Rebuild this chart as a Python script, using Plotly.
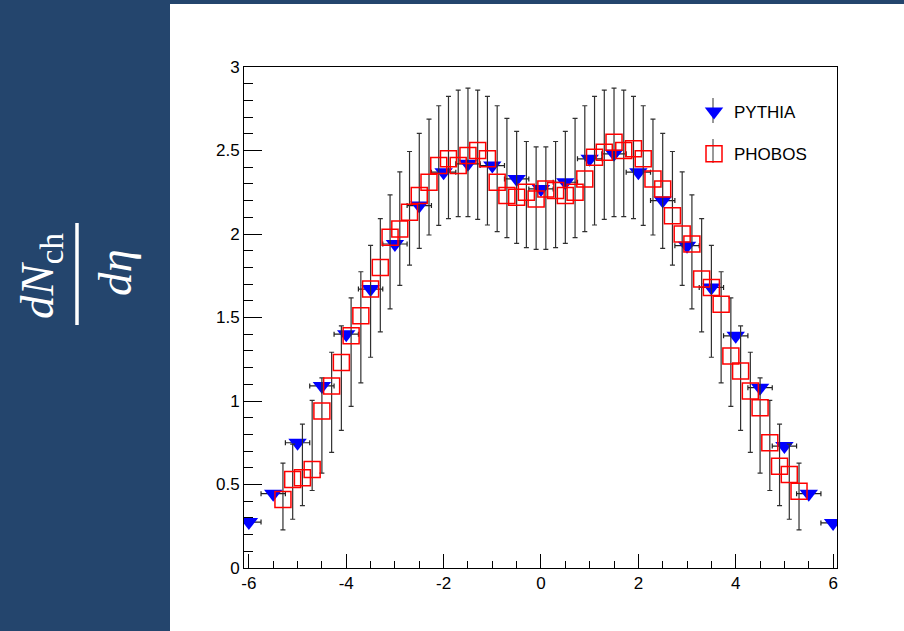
import plotly.graph_objects as go

# PYTHIA: charged-particle pseudorapidity density, bins of width 0.5
pythia_eta = [-6.0, -5.5, -5.0, -4.5, -4.0, -3.5, -3.0, -2.5, -2.0, -1.5, -1.0, -0.5, 0.0,
              0.5, 1.0, 1.5, 2.0, 2.5, 3.0, 3.5, 4.0, 4.5, 5.0, 5.5, 6.0]
pythia_dndeta = [0.275, 0.445, 0.75, 1.09, 1.40, 1.67, 1.94, 2.17, 2.37, 2.42, 2.41, 2.33, 2.27,
                 2.31, 2.45, 2.48, 2.37, 2.20, 1.93, 1.68, 1.39, 1.08, 0.73, 0.445, 0.27]
pythia_eta_halfwidth = [0.25] * len(pythia_eta)

# PHOBOS measurement, bins of width 0.2, with systematic band (lower/upper ends)
phobos_eta = [-5.3, -5.1, -4.9, -4.7, -4.5, -4.3, -4.1, -3.9, -3.7, -3.5, -3.3, -3.1, -2.9,
              -2.7, -2.5, -2.3, -2.1, -1.9, -1.7, -1.5, -1.3, -1.1, -0.9, -0.7, -0.5, -0.3,
              -0.1, 0.1, 0.3, 0.5, 0.7, 0.9, 1.1, 1.3, 1.5, 1.7, 1.9, 2.1, 2.3, 2.5, 2.7,
              2.9, 3.1, 3.3, 3.5, 3.7, 3.9, 4.1, 4.3, 4.5, 4.7, 4.9, 5.1, 5.3]
phobos_dndeta = [0.41, 0.53, 0.54, 0.59, 0.94, 1.09, 1.23, 1.39, 1.51, 1.67, 1.80, 1.98, 2.03,
                 2.13, 2.23, 2.31, 2.41, 2.45, 2.41, 2.47, 2.50, 2.45, 2.31, 2.23, 2.22, 2.25,
                 2.21, 2.27, 2.26, 2.23, 2.25, 2.33, 2.46, 2.49, 2.55, 2.50, 2.51, 2.45, 2.33,
                 2.27, 2.11, 2.00, 1.94, 1.73, 1.68, 1.58, 1.27, 1.18, 1.06, 0.96, 0.75, 0.61,
                 0.56, 0.46]
phobos_low = [0.228, 0.292, 0.374, 0.464, 0.568, 0.692, 0.824, 0.968, 1.108, 1.262, 1.414, 1.552,
              1.692, 1.814, 1.914, 1.994, 2.052, 2.092, 2.104, 2.104, 2.088, 2.054, 2.014, 1.978,
              1.944, 1.918, 1.908, 1.908, 1.918, 1.944, 1.978, 2.014, 2.054, 2.088, 2.104, 2.104,
              2.092, 2.052, 1.994, 1.914, 1.814, 1.692, 1.552, 1.414, 1.262, 1.108, 0.968, 0.824,
              0.692, 0.568, 0.464, 0.374, 0.292, 0.228]
phobos_high = [0.628, 0.742, 0.862, 1.004, 1.138, 1.292, 1.450, 1.618, 1.774, 1.932, 2.092, 2.234,
               2.372, 2.494, 2.602, 2.688, 2.768, 2.824, 2.862, 2.874, 2.862, 2.824, 2.768, 2.692,
               2.614, 2.554, 2.522, 2.522, 2.554, 2.614, 2.692, 2.768, 2.824, 2.862, 2.874, 2.862,
               2.824, 2.768, 2.688, 2.602, 2.494, 2.372, 2.234, 2.092, 1.932, 1.774, 1.618, 1.450,
               1.292, 1.138, 1.004, 0.862, 0.742, 0.628]

x_tick_values = [-6, -4, -2, 0, 2, 4, 6]
x_tick_labels = ["-6", "-4", "-2", "0", "2", "4", "6"]
y_tick_values = [0, 0.5, 1, 1.5, 2, 2.5, 3]
y_tick_labels = ["0", "0.5", "1", "1.5", "2", "2.5", "3"]

W, H = 904, 631
L, R, T, B = 244, 67, 67, 63
SANS = "Liberation Sans, Arial, Helvetica, sans-serif"
SERIF = "Liberation Serif, DejaVu Serif, serif"


def px_x(p):
    return (p - L) / (W - L - R)


def px_y(p):
    return (H - B - p) / (H - T - B)


err_plus = [h - v for h, v in zip(phobos_high, phobos_dndeta)]
err_minus = [v - lo for v, lo in zip(phobos_dndeta, phobos_low)]

fig = go.Figure()

fig.add_trace(go.Scatter(
    x=pythia_eta, y=pythia_dndeta, mode="markers", name="PYTHIA",
    marker=dict(symbol="triangle-down", size=16, color="#0000ff"),
    error_x=dict(type="data", array=pythia_eta_halfwidth, color="#202020",
                 thickness=1.2, width=2.5),
    legendgroup="a",
))

fig.add_trace(go.Scatter(
    x=phobos_eta, y=phobos_dndeta, mode="markers", name="PHOBOS",
    marker=dict(symbol="square-open", size=16, color="#ff0000",
                line=dict(width=1.5, color="#ff0000")),
    error_y=dict(type="data", symmetric=False, array=err_plus, arrayminus=err_minus,
                 color="#303030", thickness=1.2, width=2.5),
    legendgroup="b",
))

LEG_LEFT, LEG_TOP = 694, 94
sym_x = LEG_LEFT + 19

shapes = [
    # white panel behind the chart
    dict(type="rect", xref="paper", yref="paper", layer="below",
         x0=px_x(170), x1=px_x(W + 2), y0=px_y(H + 2), y1=px_y(4),
         fillcolor="white", line=dict(width=0)),
    # fraction bar of the axis title
    dict(type="line", xref="paper", yref="paper",
         x0=px_x(77), x1=px_x(77), y0=px_y(223), y1=px_y(325),
         line=dict(color="white", width=3.5)),
    # error-bar strokes of the legend symbols
    dict(type="line", xref="paper", yref="paper",
         x0=px_x(sym_x), x1=px_x(sym_x), y0=px_y(98), y1=px_y(123),
         line=dict(color="#555555", width=1.2)),
    dict(type="line", xref="paper", yref="paper",
         x0=px_x(sym_x), x1=px_x(sym_x), y0=px_y(139), y1=px_y(163),
         line=dict(color="#555555", width=1.2)),
]

annotations = [
    dict(xref="paper", yref="paper", x=px_x(40), y=px_y(276), showarrow=False,
         xanchor="center", yanchor="middle",
         text="<i>dN</i><sub>ch</sub>", textangle=-90,
         font=dict(family=SERIF, size=47, color="white")),
    dict(xref="paper", yref="paper", x=px_x(115), y=px_y(273), showarrow=False,
         xanchor="center", yanchor="middle",
         text="<i>dη</i>", textangle=-90,
         font=dict(family=SERIF, size=47, color="white")),
]

axis_common = dict(
    showline=True, linecolor="black", linewidth=1, mirror=True,
    showgrid=False, zeroline=False, ticks="inside", tickcolor="black", tickwidth=1,
    tickfont=dict(family=SANS, size=17, color="black"),
)

fig.update_layout(
    width=W, height=H,
    margin=dict(l=L, r=R, t=T, b=B, pad=0),
    paper_bgcolor="#24456d", plot_bgcolor="white",
    shapes=shapes, annotations=annotations,
    showlegend=True,
    legend=dict(x=px_x(LEG_LEFT), y=px_y(LEG_TOP), xanchor="left", yanchor="top",
                bgcolor="rgba(0,0,0,0)", borderwidth=0, tracegroupgap=17,
                font=dict(family=SANS, size=17, color="black")),
    xaxis=dict(range=[-6.1, 6.08], tickvals=x_tick_values, ticktext=x_tick_labels,
               ticklen=14, minor=dict(dtick=0.5, tick0=0, ticklen=7, ticks="inside",
                                      tickcolor="black", tickwidth=1),
               **axis_common),
    yaxis=dict(range=[0, 3], tickvals=y_tick_values, ticktext=y_tick_labels,
               ticklen=18, minor=dict(dtick=0.1, tick0=0, ticklen=9, ticks="inside",
                                      tickcolor="black", tickwidth=1),
               **axis_common),
)

fig.write_html("out.html")
